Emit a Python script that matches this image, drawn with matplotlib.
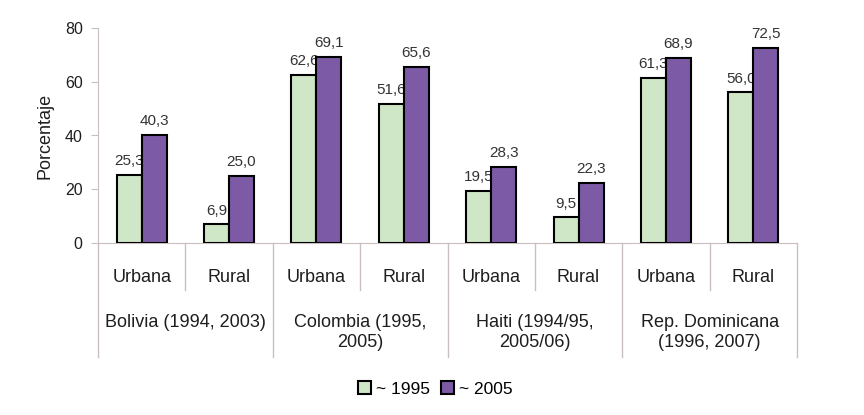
import matplotlib
matplotlib.use("Agg")
import matplotlib.pyplot as plt
from matplotlib.patches import Patch
import numpy as np

plt.rcParams['font.family'] = ['Liberation Sans', 'DejaVu Sans']

countries = ["Bolivia (1994, 2003)", "Colombia (1995,\n2005)", "Haiti (1994/95,\n2005/06)", "Rep. Dominicana\n(1996, 2007)"]
areas = ["Urbana", "Rural"]
series_names = ["~ 1995", "~ 2005"]
values_1995 = [25.3, 6.9, 62.6, 51.6, 19.5, 9.5, 61.3, 56.0]
values_2005 = [40.3, 25.0, 69.1, 65.6, 28.3, 22.3, 68.9, 72.5]
yticks = [0, 20, 40, 60, 80]

green = "#cfe7c7"
purple = "#7c5aa6"
grey = "#c9bfbf"
txt = "#1e1e1e"

fig = plt.figure(figsize=(8.64, 4.15), dpi=100)
ax = fig.add_axes([98/864, 1-243/415, 699/864, 215/415])

n = len(values_1995)
x = np.arange(n)
w = 0.286
b1 = ax.bar(x - w/2, values_1995, w, color=green, edgecolor="black", linewidth=1.5, label=series_names[0], zorder=3)
b2 = ax.bar(x + w/2, values_2005, w, color=purple, edgecolor="black", linewidth=1.5, label=series_names[1], zorder=3)

def fmt(v):
    return f"{v:.1f}".replace(".", ",")

for bars, vals in ((b1, values_1995), (b2, values_2005)):
    for r, v in zip(bars, vals):
        ax.annotate(fmt(v), (r.get_x() + r.get_width()/2, v), xytext=(0, 5),
                    textcoords="offset points", ha="center", va="bottom",
                    fontsize=11, color="#333333", zorder=2)

ax.set_xlim(-0.5, n - 0.5)
ax.set_ylim(0, 80)
ax.set_yticks(yticks)
ax.set_yticklabels([str(t) for t in yticks], fontsize=11.5, color=txt)
ax.tick_params(axis="y", direction="out", length=5, color=grey, pad=6)
ax.set_xticks([])
for s in ("top", "right"):
    ax.spines[s].set_visible(False)
ax.spines["left"].set_color(grey)
ax.spines["bottom"].set_color(grey)
ax.set_ylabel("Porcentaje", fontsize=13, color=txt, labelpad=8)

tr = ax.get_xaxis_transform()
for i in range(n + 1):
    xb = i - 0.5
    if i % 2 == 0:
        ax.plot([xb, xb], [0, -0.53], transform=tr, color=grey, lw=1, clip_on=False)
    else:
        ax.plot([xb, xb], [0, -0.22], transform=tr, color=grey, lw=1, clip_on=False)

for i in range(n):
    ax.text(i, -0.161, areas[i % 2], transform=tr, ha="center", va="center",
            fontsize=13, color=txt)

for g, name in enumerate(countries):
    ax.text(2*g + 0.5, -0.33, name, transform=tr, ha="center", va="top",
            fontsize=13, color=txt, linespacing=1.27)

handles = [Patch(facecolor=green, edgecolor="black", linewidth=1.5),
           Patch(facecolor=purple, edgecolor="black", linewidth=1.5)]
fig.legend(handles, series_names, loc="center", bbox_to_anchor=(0.504, 0.063), ncol=2,
           frameon=False, fontsize=12.5, handlelength=0.75, handleheight=0.75,
           handletextpad=0.3, columnspacing=0.6, borderpad=0.1)

fig.savefig("out.png", dpi=100, facecolor="white")
